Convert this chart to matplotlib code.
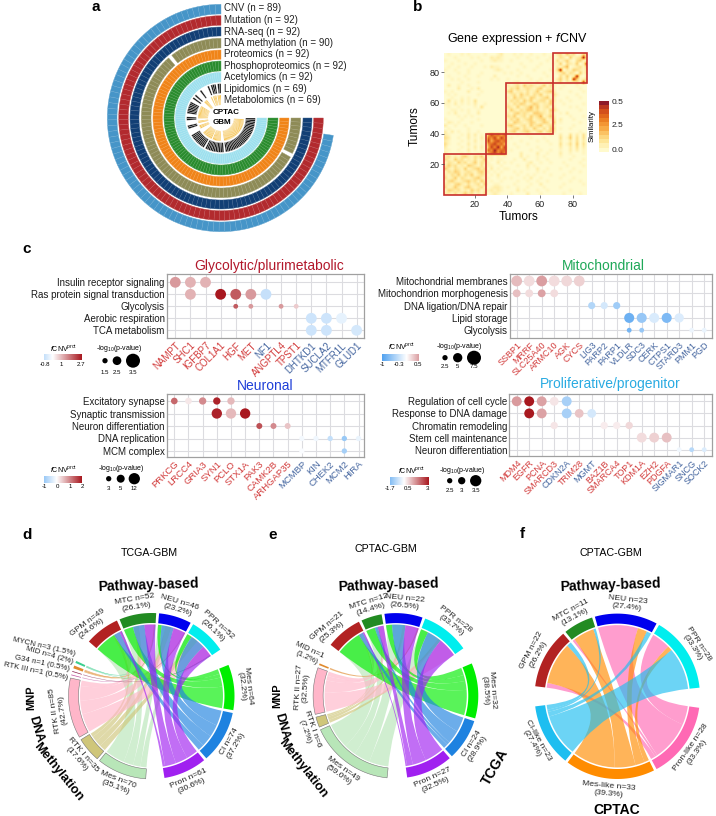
import numpy as np
import matplotlib
matplotlib.use('Agg')
import matplotlib.pyplot as plt
from matplotlib.colors import LinearSegmentedColormap, TwoSlopeNorm, to_rgb
from matplotlib.patches import PathPatch, Rectangle
from matplotlib.path import Path

plt.rcParams['font.family'] = ['Liberation Sans', 'DejaVu Sans']
plt.rcParams['mathtext.fontset'] = 'custom'
plt.rcParams['mathtext.rm'] = 'Liberation Sans'
plt.rcParams['mathtext.it'] = 'Liberation Sans:italic'
plt.rcParams['mathtext.bf'] = 'Liberation Sans:bold'

# ---------- panel a ----------
omics_labels = ['CNV (n = 89)', 'Mutation (n = 92)', 'RNA-seq (n = 92)', 'DNA methylation (n = 90)',
                'Proteomics (n = 92)', 'Phosphoproteomics (n = 92)', 'Acetylomics (n = 92)',
                'Lipidomics (n = 69)', 'Metabolomics (n = 69)']
omics_colors = ['#4695C8', '#B22A2E', '#123F75', '#8E8B57', '#F08418', '#2A8C2E', '#9DE0EE', '#1A1A1A', '#F5BC3A']
n_samples = 92
cnv_present = list(range(89))
full_present = list(range(92))
dna_missing = [13, 82]
lipid_present = [0, 1, 3, 4, 5, 7, 12, 16, 18] + list(range(21, 28)) + [30, 31, 35, 36] + \
    list(range(41, 51)) + list(range(52, 63)) + list(range(64, 92))
metab_present = [0, 1, 2, 4, 5, 6, 8, 13, 14, 15] + list(range(20, 31)) + [33, 34, 37, 38, 39] + \
    list(range(44, 53)) + list(range(54, 61)) + list(range(64, 91))

# ---------- panel b ----------
heat_rows = [  # top row first, one character per 2x2 tumour block
 "0100010100001 000120 001010010001000 2314230142",
 "0001000010100 021210 000100100100010 1320412391",
 "1000100000010 012110 010000010000100 3124103412",
 "0010001001000 000000 000010000010001 1403214029",
 "0100100010001 021100 100001000100000 2135012314",
 "1001000100000 001210 000100001000010 3902143213",
 "0000100100010 000001 010010000001000 1241320413",
 "0100001000100 002000 000100100000100 0314129102",
 "0010100100000 010100 100000010010000 2413094123",
 "0000010000100 000000 001200100200110 1302213190",
 "0200100100000 000000 212314232124131 0010001000",
 "0000200010200 000000 132412321341221 0100000100",
 "1010000200010 000000 341221312412342 0000100010",
 "0101000000100 000000 123142313241213 1000001000",
 "0010010100000 000000 214232143123412 0001000100",
 "0301020103000 000000 132314241233142 0100100000",
 "1102010102001 000000 213243124312241 0010000010",
 "0100100001030 000000 321412352412312 0000101000",
 "0011010100100 000000 142132442312143 1000000100",
 "0102000100200 000000 213423214432131 0102000000",
 "0000101010000 000000 324123142351242 0000100010",
 "1000010000100 000000 132412341234123 0200010000",
 "0210100010000 000000 214321243124314 0100000100",
 "2001001000010 000000 342123142341232 0000010000",
 "0100000100000 000000 123413214213143 0100100000",
 "2020100100100 000000 234123421341342 0000000100",
 "2100010202010 586757 000100100000010 0200302030",
 "3200100201020 768586 010000010001000 0301403030",
 "2100010102010 857867 000010000100100 0200203020",
 "3100100201010 678675 001000100000010 0301304030",
 "2000010102020 586958 000100000100000 0200203020",
 "1100100201010 769677 010000010010010 0100202010",
 "2000010100100 578686 000020000200100 0200100010",
 "2312134213241 110101 000020100101000 0100010000",
 "3214231213124 010110 001002000100100 0000100010",
 "1321423124132 100201 010000120010010 0010000100",
 "2423121432131 110010 000100201000000 0001000010",
 "4213214123423 020101 100000100200100 0100010000",
 "1324312321342 101010 001010000101000 0000100100",
 "2132413241232 010200 000100101000010 0010000000",
 "3124132123421 100101 010001020010000 0100010000",
 "1342123423142 010010 000100100100100 0000100100",
 "2213421312314 001100 001000010020000 0010000010",
 "3124213421231 012210 100100100001000 0100000000",
 "1432312142312 121210 000201000100100 0000100000",
 "2213124231213 012100 010000200010000 0010000100",
]
heat_colors = ['#FFFBD0', '#FFF5BE', '#FFEDA8', '#FEE08E', '#FDCF72', '#F7B04F', '#EF8D33', '#E06A22', '#C9431E', '#8E1B2A']
cbar_colors = ['#FFFACD', '#FFF0B0', '#FEE08B', '#FDCB6E', '#F9AE4A', '#F39433', '#E8771F', '#DC5B1B', '#C53E20', '#8E1B2A']
clusters_x = [(1.5, 27), (27, 39), (39, 68), (68, 88.5)]
clusters_y = [(0, 27), (27, 40), (40, 73), (73, 92.5)]

# ---------- panel c ----------
gly_title = 'Glycolytic/plurimetabolic'
gly_paths = ['Insulin receptor signaling', 'Ras protein signal transduction', 'Glycolysis', 'Aerobic respiration', 'TCA metabolism']
gly_genes = ['NAMPT', 'SHC1', 'IGFBP7', 'COL1A1', 'HGF', 'MET', 'NF1', 'ANGPTL4', 'TPST1', 'DHTKD1', 'SUCLA2', 'MTFR1L', 'GLUD1']
gly_blue = ['NF1', 'DHTKD1', 'SUCLA2', 'MTFR1L', 'GLUD1']
gly_r = [0, 0, 0, 1, 1, 1, 1, 1, 2, 2, 2, 2, 3, 3, 3, 4, 4, 4]
gly_c = [0, 1, 2, 1, 3, 4, 5, 6, 4, 5, 7, 8, 9, 10, 11, 9, 10, 12]
gly_v = [1.2, .9, .9, .9, 2.7, 1.9, 1.2, -.8, 1.9, 1.2, 1.2, .6, -.7, -.7, -.35, -.7, -.7, -.6]
gly_p = [2.9, 2.9, 2.9, 2.9, 2.9, 2.9, 2.9, 2.9, 1.5, 1.5, 1.5, 1.5, 2.9, 2.9, 2.9, 2.9, 2.9, 2.9]

mit_title = 'Mitochondrial'
mit_paths = ['Mitochondrial membranes', 'Mitochondrion morphogenesis', 'DNA ligation/DNA repair', 'Lipid storage', 'Glycolysis']
mit_genes = ['SSBP1', 'MRRF', 'SLC25A40', 'ARMC10', 'AGK', 'CYCS', 'LIG3', 'PARP2', 'PARP1', 'VLDLR', 'SDC3', 'CERK', 'CTPS1', 'STARD3', 'PMM1', 'PGD']
mit_blue = mit_genes[6:]
mit_r = [0] * 6 + [1] * 4 + [2] * 3 + [3] * 5 + [4] * 4
mit_c = [0, 1, 2, 3, 4, 5, 0, 1, 2, 3, 6, 7, 8, 9, 10, 11, 12, 13, 9, 10, 14, 15]
mit_v = [.35, .18, .5, .18, .2, .24, .33, .18, .48, .18, -.45, -.25, -.55, -.85, -.6, -.22, -.75, -.2, -.8, -.6, -.1, -.12]
mit_p = [5.8, 5.8, 5.8, 5.8, 5.8, 5.8, 4.2, 4.2, 4.2, 4.2, 3.8, 3.8, 3.8, 5.4, 5.4, 5.4, 5.4, 5, 2.5, 2.5, 2.5, 2.5]

neu_title = 'Neuronal'
neu_paths = ['Excitatory synapse', 'Synaptic transmission', 'Neuron differentiation', 'DNA replication', 'MCM complex']
neu_genes = ['PRKCG', 'LRCC4', 'GRIA3', 'SYN1', 'PCLO', 'STX1A', 'PAK3', 'CAMK2B', 'ARHGAP35', 'MCMBP', 'KIN', 'CHEK2', 'MCM2', 'HIRA']
neu_blue = neu_genes[9:]
neu_r = [0] * 5 + [1] * 3 + [2] * 3 + [3] * 5 + [4] * 2
neu_c = [0, 1, 2, 3, 4, 3, 4, 5, 6, 7, 8, 9, 10, 11, 12, 13, 9, 12]
neu_v = [1.3, .2, 1.0, 1.9, .6, 1.9, .6, 2, 1.5, 1.0, .5, -.1, -.15, -.6, -1, -.2, -.05, -.9]
neu_p = [4, 4, 4.5, 4.5, 4.5, 10.5, 10.5, 10.5, 3.5, 3.5, 3.5, 3, 3, 3, 3, 3, 3, 3]

pro_title = 'Proliferative/progenitor'
pro_paths = ['Regulation of cell cycle', 'Response to DNA damage', 'Chromatin remodeling', 'Stem cell maintenance', 'Neuron differentiation']
pro_genes = ['MDM4', 'EGFR', 'PCNA', 'SMARCD3', 'CDKN2A', 'TRIM28', 'MGMT', 'BAZ1B', 'SMARCA4', 'TOP1', 'KDM1A', 'EZH2', 'PDGFA', 'SIGMAR1', 'SNCG', 'SOCK2']
pro_blue = ['CDKN2A', 'MGMT', 'SIGMAR1', 'SNCG', 'SOCK2']
pro_r = [0] * 5 + [1] * 5 + [2] * 4 + [3] * 3 + [4] * 3
pro_c = [0, 1, 2, 3, 4, 1, 2, 4, 5, 6, 3, 7, 8, 9, 10, 11, 12, 13, 14, 15]
pro_v = [1.3, 3, 1.2, .35, -1.2, 3, 1.2, -1.2, .75, -.6, .35, .25, .25, .5, .45, .6, .8, -.2, -1, -.5]
pro_p = [3.35, 3.35, 3.35, 3.2, 3.35, 3.35, 3.35, 3.35, 3.2, 3.2, 3, 3, 3, 3, 3.35, 3.35, 3.35, 2.5, 2.5, 2.5]

# ---------- panels d, e, f ----------
top_colors = ['#B22222', '#228B22', '#0000EE', '#00EEEE']
d_top_lab = ['GPM n=49\n(24.6%)', 'MTC n=52\n(26.1%)', 'NEU n=46\n(23.2%)', 'PPR n=52\n(26.1%)']
d_top_n = [49, 52, 46, 52]
d_tcga_lab = ['Mes n=64\n(32.2%)', 'Cl n=74\n(37.2%)', 'Pron n=61\n(30.6%)']
d_tcga_n = [64, 74, 61]
tcga_colors = ['#00EE00', '#1E82E0', '#A020F0']
d_tcga_m = [[35, 10, 4], [15, 19, 18], [6, 20, 20], [8, 25, 19]]
d_meth_lab = ['Mes n=70\n(35.1%)', 'RTK I n=35\n(17.6%)', 'RTK II n=85\n(42.7%)', 'RTK III n=1 (0.5%)', 'G34 n=1 (0.5%)', 'MID n=4 (2%)', 'MYCN n=3 (1.5%)']
d_meth_n = [70, 35, 85, 1, 1, 4, 3]
d_meth_c = ['#B8E6B8', '#CFC67A', '#FFB6C9', '#C04FA0', '#8B2252', '#E08A2E', '#3CCF8E']
d_meth_m = [[32, 6, 9, 0, 0, 1, 1], [16, 9, 24, 0, 0, 2, 1], [12, 10, 22, 1, 0, 1, 0], [10, 10, 30, 0, 1, 0, 1]]

e_top_lab = ['GPM n=21\n(25.3%)', 'MTC n=12\n(14.4%)', 'NEU n=22\n(26.5%)', 'PPR n=28\n(33.7%)']
e_top_n = [21, 12, 22, 28]
e_tcga_lab = ['Mes n=32\n(38.5%)', 'Cl n=24\n(28.9%)', 'Pron n=27\n(32.5%)']
e_tcga_n = [32, 24, 27]
e_tcga_m = [[17, 3, 1], [6, 2, 4], [4, 9, 9], [5, 10, 13]]
e_meth_lab = ['Mes n=49\n(59.0%)', 'RTK I n=6\n(7.2%)', 'RTK II n=27\n(32.5%)', 'MID n=1\n(1.2%)']
e_meth_n = [49, 6, 27, 1]
e_meth_c = ['#B8E6B8', '#CFC67A', '#FFB6C9', '#E08A2E']
e_meth_m = [[17, 1, 3, 0], [8, 1, 3, 0], [11, 2, 8, 1], [13, 2, 13, 0]]

f_top_lab = ['GPM n=22\n(26.2%)', 'MTC n=11\n(13.1%)', 'NEU n=23\n(27.4%)', 'PPR n=28\n(33.3%)']
f_top_n = [22, 11, 23, 28]
f_cptac_lab = ['Pron-like n=28\n(33.3%)', 'Mes-like n=33\n(39.3%)', 'Cl-like n=23\n(27.4%)']
f_cptac_n = [28, 33, 23]
f_cptac_c = ['#FF69B4', '#FF8C00', '#1EBEF0']
f_cptac_m = [[2, 18, 2], [1, 9, 1], [17, 4, 2], [8, 2, 18]]

# ---------- figure ----------
W, H = 716, 816
fig = plt.figure(figsize=(W / 100, H / 100), dpi=100)
ax = fig.add_axes([0, 0, 1, 1], zorder=5)
ax.set_xlim(0, W)
ax.set_ylim(H, 0)
ax.axis('off')
ax.patch.set_alpha(0)


def sub_axes(x0, y0, x1, y1, **kw):
    return fig.add_axes([x0 / W, 1 - y1 / H, (x1 - x0) / W, (y1 - y0) / H], **kw)


def arc_xy(cx, cy, r, a0, a1, num=None):
    num = num or max(2, int(abs(a1 - a0) / 2) + 2)
    t = np.radians(np.linspace(a0, a1, num))
    return np.c_[cx + r * np.cos(t), cy - r * np.sin(t)]


def ring(cx, cy, r0, r1, a0, a1, **kw):
    pts = np.vstack([arc_xy(cx, cy, r1, a0, a1), arc_xy(cx, cy, r0, a1, a0)])
    ax.fill(pts[:, 0], pts[:, 1], **kw)


for lab, txt in [('a', (96, 7)), ('b', (418, 7)), ('c', (27, 249)), ('d', (27, 535)), ('e', (273, 535)), ('f', (522, 534))]:
    ax.text(txt[0], txt[1], lab, fontsize=11, fontweight='bold', ha='center', va='center')

# ---- a ----
ca = (221, 118)
ring_r = [(104, 113.7), (92.7, 102.3), (82, 91), (70, 79.7), (58.7, 68), (47, 57), (36, 45.7), (24.7, 34.3), (13, 23)]
ring_present = [cnv_present, full_present, full_present, [i for i in full_present if i not in dna_missing],
                full_present, full_present, full_present, lipid_present, metab_present]
step = 270 / n_samples
label_y = [8.3, 20, 31.7, 43, 54.3, 65.7, 77, 88.7, 100]
for k, (rr, pres, col) in enumerate(zip(ring_r, ring_present, omics_colors)):
    edge = 'white' if k >= 7 else tuple(0.82 * np.array(to_rgb(col)) + 0.18)
    for i in pres:
        ring(*ca, rr[0], rr[1], 90 + i * step, 90 + (i + 1) * step, facecolor=col,
             edgecolor=edge, linewidth=0.3 if k < 7 else 0.18)
    ax.text(224, label_y[k], omics_labels[k], fontsize=7, va='center', ha='left', color='#222222')
ax.text(226.5, 113, 'CPTAC', fontsize=5.8, fontweight='bold', ha='center', va='center')
ax.text(222, 123, 'GBM', fontsize=5.8, fontweight='bold', ha='center', va='center')

# ---- b ----
axb = sub_axes(444.3, 53, 586.7, 195)
mat = np.array([[int(c) for c in r.replace(' ', '')] for r in heat_rows])
axb.imshow(mat, cmap=LinearSegmentedColormap.from_list('hm', heat_colors), vmin=0, vmax=9, extent=(1.5, 89.5, 0, 92),
           aspect='auto', interpolation='bilinear')
axb.set_xlim(1.5, 88.5)
axb.set_ylim(0, 92.5)
for s in axb.spines.values():
    s.set_visible(False)
axb.set_xticks([20, 40, 60, 80])
axb.set_yticks([20, 40, 60, 80])
axb.tick_params(labelsize=6.5, length=2, width=0.5, pad=1.5, color='#444444', labelcolor='#222222')
for (xa, xb), (ya, yb) in zip(clusters_x, clusters_y):
    axb.add_patch(Rectangle((xa, ya), xb - xa, yb - ya, fill=False, ec='#C8302C', lw=1.2, clip_on=False))
ax.text(517.7, 39, 'Gene expression + $\\mathit{f}$CNV', fontsize=9, ha='center', va='center')
ax.text(519, 217, 'Tumors', fontsize=8.6, ha='center', va='center')
ax.text(415, 126, 'Tumors', fontsize=8.6, ha='center', va='center', rotation=90)
axbc = sub_axes(599.3, 100.7, 608.7, 151.7)
axbc.imshow(np.arange(12)[::-1].reshape(-1, 1), cmap=LinearSegmentedColormap.from_list('hb', cbar_colors), aspect='auto', interpolation='nearest')
axbc.axis('off')
for lab, y in [('0.5', 102), ('2.5', 125.7), ('0.0', 150)]:
    ax.text(612, y, lab, fontsize=6, va='center', ha='left', color='#222222')
ax.text(592.5, 126, 'Similarity', fontsize=5.6, rotation=90, ha='center', va='center')

# ---- c ----
div_cmap = LinearSegmentedColormap.from_list('dv', ['#4A9EEF', '#FFFFFF', '#A8181F'])


def dot_panel(genes, paths, rows, cols, vals, pvals, blue, box, x0, dx, y0, dy, vlim, pscale, title, title_xy, tcol, tick_fs=7):
    left, top, right, bot = box
    a = sub_axes(left, top, right, bot)
    a.set_xlim((left - x0) / dx, (right - x0) / dx)
    a.set_ylim((bot - y0) / dy, (top - y0) / dy)
    a.set_xticks(range(len(genes)))
    a.set_xticklabels(genes, rotation=45, ha='right', rotation_mode='anchor', fontsize=tick_fs)
    a.set_yticks(range(len(paths)))
    a.set_yticklabels(paths, fontsize=7, color='#1a1a1a')
    for lbl, g in zip(a.get_xticklabels(), genes):
        lbl.set_color('#44659F' if g in blue else '#D23B3B')
    a.tick_params(length=0, pad=1.5)
    a.tick_params(axis='x', pad=2)
    a.grid(True, color='#DCDCE0', lw=0.8)
    a.set_axisbelow(True)
    for s in a.spines.values():
        s.set_color('#A0A0A0')
        s.set_linewidth(0.9)
    norm = TwoSlopeNorm(vcenter=0, vmin=vlim[0], vmax=vlim[1])
    diam = np.interp(pvals, pscale[0], pscale[1])
    a.scatter(cols, rows, s=(diam * 0.72) ** 2, c=vals, cmap=div_cmap, norm=norm, linewidths=0, zorder=3, clip_on=False)
    ax.text(title_xy[0], title_xy[1], title, fontsize=10, color=tcol, ha='center', va='center')
    return norm


def legend(norm, bar, bar_labels, bar_range, title_xy, size_title_x, size_title_y, dot_x, dot_y, dot_d, dot_lab, lab_y, size_lab_y):
    b = sub_axes(*bar)
    g = np.linspace(bar_range[0], bar_range[1], 128).reshape(1, -1)
    b.imshow(g, cmap=div_cmap, norm=norm, aspect='auto')
    b.axis('off')
    for (x, t) in bar_labels:
        ax.text(x, lab_y, t, fontsize=4.4, ha='center', va='center')
    ax.text(title_xy[0], title_xy[1], '$\\mathit{f}$CNV$^{\\mathrm{prot}}$', fontsize=5, ha='center', va='center')
    ax.text(size_title_x, size_title_y, '-log$_{10}$(p-value)', fontsize=5, ha='center', va='center')
    ax.scatter(dot_x, [dot_y] * len(dot_x), s=(np.array(dot_d) * 0.72) ** 2, c='black', linewidths=0)
    for x, t in zip(dot_x, dot_lab):
        ax.text(x, size_lab_y, t, fontsize=4.4, ha='center', va='center')


gly_scale = ([1.5, 2.5, 3.5], [4.8, 8.7, 14])
n1 = dot_panel(gly_genes, gly_paths, gly_r, gly_c, gly_v, gly_p, gly_blue, (166.7, 274.3, 364, 337.7), 175.3, 15.11, 282.3, 12, (-2.5, 2.7), gly_scale, gly_title, (269, 266), '#B2182B')
legend(n1, (44, 354, 82, 360), [(44.5, '-0.8'), (61, '1'), (81, '2.7')], (-0.8, 2.7), (64, 349), 119, 349, [105, 117, 133], 360.7, [5.3, 8.7, 14], ['1.5', '2.5', '3.5'], 364, 372)

mit_scale = ([2.5, 5, 7.5], [4.8, 9.3, 14])
n2 = dot_panel(mit_genes, mit_paths, mit_r, mit_c, mit_v, mit_p, mit_blue, (509.7, 274, 711.7, 337.7), 516.7, 12.5, 281, 12.3, (-1.05, 1.2), mit_scale, mit_title, (603, 266), '#1FA858', tick_fs=6.5)
legend(n2, (382, 354, 419, 361), [(382, '-1'), (399, '-0.3'), (418, '0.5')], (-1, 0.5), (401.7, 347), 459, 347, [445, 457.7, 474], 357.7, [5.3, 9.3, 14], ['2.5', '5', '7.5'], 365, 367)

neu_scale = ([3, 5, 12], [5.3, 8, 11])
n3 = dot_panel(neu_genes, neu_paths, neu_r, neu_c, neu_v, neu_p, neu_blue, (166.7, 394.3, 364, 456.7), 174.3, 14.17, 401, 12.5, (-1.8, 2), neu_scale, neu_title, (265, 385.7), '#1E3FD8', tick_fs=6.8)
legend(n3, (44, 476, 82, 483), [(44.5, '-1'), (57, '0'), (70, '1'), (82, '2')], (-1, 2), (64, 470), 121, 469, [108.7, 120.7, 134.3], 478.7, [5.3, 8, 11.3], ['3', '5', '12'], 487, 489)

pro_scale = ([2.5, 3, 3.5], [4.8, 7.3, 11])
n4 = dot_panel(pro_genes, pro_paths, pro_r, pro_c, pro_v, pro_p, pro_blue, (509.3, 394.3, 711.7, 455.7), 516.7, 12.5, 401.3, 12.1, (-2.5, 3), pro_scale, pro_title, (610.7, 384), '#29ABE2', tick_fs=6.5)
legend(n4, (390, 477, 428, 484.7), [(390, '-1.7'), (408, '0.5'), (427, '3')], (-1.7, 3), (411.7, 470.7), 462, 470, [449.7, 461.7, 475.7], 480.7, [5.3, 7.3, 11.3], ['2.5', '3', '3.5'], 488.7, 490.7)


# ---- chord diagrams ----
def chord_link(cx, cy, r, a0, a1, b0, b1, color, alpha):
    A = arc_xy(cx, cy, r, a0, a1, 8)
    B = arc_xy(cx, cy, r, b0, b1, 8)
    c = (cx, cy)
    verts = list(A) + [c, B[0]] + list(B[1:]) + [c, A[0]]
    codes = [Path.MOVETO] + [Path.LINETO] * (len(A) - 1) + [Path.CURVE3, Path.CURVE3] + \
            [Path.LINETO] * (len(B) - 1) + [Path.CURVE3, Path.CURVE3]
    ax.add_patch(PathPatch(Path(verts, codes), facecolor=color, alpha=alpha, edgecolor='none', linewidth=0))


def label_rot(mid):
    mid = mid % 360
    return mid - 90 if mid < 195 else mid + 90


def chord_panel(cx, cy, R, start, top, others, big_gaps, small=2.0, alpha=0.65, no_tangent=None, shift=None):
    all_groups = [top] + [o[:3] for o in others]
    total = sum(sum(g[0]) for g in all_groups)
    nsmall = sum(len(g[0]) - 1 for g in all_groups)
    scale = (360 - sum(big_gaps) - nsmall * small) / total
    spans = []
    ang = start
    for gi, g in enumerate(all_groups):
        sp = []
        for n in g[0]:
            sp.append((ang, ang - n * scale))
            ang -= n * scale + small
        ang += small
        ang -= big_gaps[gi] if gi < len(big_gaps) else 0
        spans.append(sp)
    rl = R - 11.5
    for t_i in range(len(others) - 1, -1, -1):
        ns, cols, mat = others[t_i][0], others[t_i][2], others[t_i][3]
        tspan = spans[t_i + 1]
        cur_top = [sp[0] for sp in spans[0]]
        cur_t = [sp[0] for sp in tspan]
        slots_top = {}
        for i in range(len(mat)):
            for j in range(len(ns)):
                w = mat[i][j] * scale
                slots_top[(i, j)] = (cur_top[i], cur_top[i] - w)
                cur_top[i] -= w
        for j in range(len(ns)):
            for i in range(len(mat) - 1, -1, -1):
                w = mat[i][j] * scale
                if w > 0:
                    a0, a1 = slots_top[(i, j)]
                    chord_link(cx, cy, rl, a0, a1, cur_t[j], cur_t[j] - w, cols[j], alpha)
                cur_t[j] -= w
    for g, sp in zip(all_groups, spans):
        ns, labs, cols = g[0], g[1], g[2]
        for n, lab, col, (a0, a1) in zip(ns, labs, cols, sp):
            ring(cx, cy, R - 10, R, a0, a1, facecolor=col, edgecolor='#777777' if col in ('#B8E6B8', '#FFB6C9', '#CFC67A') else 'none', linewidth=0.4)
            mid = (a0 + a1) / 2
            if '\n' in lab and not (no_tangent and lab in no_tangent):
                dm = (shift or {}).get(lab, 0)
                x, y = arc_xy(cx, cy, R + 11, mid + dm, mid + dm, 2)[0]
                ax.text(x, y, lab, fontsize=6.1, rotation=label_rot(mid), ha='center', va='center',
                        rotation_mode='anchor', multialignment='center', linespacing=1.15, color='#222222')


def bold_arc(cx, cy, r, mid, text, fs=10):
    x, y = arc_xy(cx, cy, r, mid, mid, 2)[0]
    ax.text(x, y, text, fontsize=fs, fontweight='bold', rotation=label_rot(mid), ha='center', va='center', rotation_mode='anchor')


# d
cd = (151.5, 696)
chord_panel(*cd, 83, 139, (d_top_n, d_top_lab, top_colors),
            [(d_tcga_n, d_tcga_lab, tcga_colors, d_tcga_m), (d_meth_n, d_meth_lab, d_meth_c, d_meth_m)], [12, 13, 16],
            shift={d_top_lab[0]: 4.5})
for t, xy, rot in [('MYCN n=3 (1.5%)', (75, 654), -13), ('MID n=4 (2%)', (73, 662.5), -16),
                   ('G34 n=1 (0.5%)', (70, 669.5), -12), ('RTK III n=1 (0.5%)', (68, 678), -12)]:
    ax.text(xy[0], xy[1], t, fontsize=5.7, rotation=rot, ha='right', va='center', rotation_mode='anchor', color='#222222')
ax.text(149, 552.7, 'TCGA-GBM', fontsize=7.7, ha='center', va='center')
ax.text(148, 585, 'Pathway-based', fontsize=10, fontweight='bold', ha='center', va='center', rotation=2)
bold_arc(*cd, 120, 181, 'MNP', 8)
bold_arc(*cd, 120, 196, 'DNA', 9)
bold_arc(*cd, 120, 219, 'Methylation', 9.3)

# e
ce = (395.7, 695.7)
chord_panel(*ce, 82.6, 142, (e_top_n, e_top_lab, top_colors),
            [(e_tcga_n, e_tcga_lab, tcga_colors, e_tcga_m), (e_meth_n, e_meth_lab, e_meth_c, e_meth_m)], [12, 14, 15],
            no_tangent=['MID n=1\n(1.2%)'],
            shift={e_top_lab[0]: 5.5, e_top_lab[1]: -1, e_meth_lab[1]: 3, e_meth_lab[2]: -1.5})
ax.text(308, 654, 'MID n=1\n(1.2%)', fontsize=5.9, rotation=-25, ha='center', va='center', rotation_mode='anchor', multialignment='center', color='#222222')
ax.text(386, 549.3, 'CPTAC-GBM', fontsize=7.7, ha='center', va='center')
ax.text(388, 585, 'Pathway-based', fontsize=10, fontweight='bold', ha='center', va='center', rotation=2)
bold_arc(*ce, 118, 180, 'MNP', 8)
bold_arc(*ce, 118, 195, 'DNA', 9)
bold_arc(*ce, 118, 218, 'Methylation', 9.3)
ax.text(495, 767, 'TCGA', fontsize=10, fontweight='bold', rotation=60, ha='center', va='center', rotation_mode='anchor')

# f
cf = (617.3, 696.3)
chord_panel(*cf, 82.7, 173, (f_top_n, f_top_lab, top_colors),
            [(f_cptac_n, f_cptac_lab, f_cptac_c, f_cptac_m)], [14, 14])
ax.text(611, 553, 'CPTAC-GBM', fontsize=7.7, ha='center', va='center')
ax.text(610, 585, 'Pathway-based', fontsize=10, fontweight='bold', ha='center', va='center', rotation=2)
ax.text(617, 810, 'CPTAC', fontsize=10, fontweight='bold', ha='center', va='center')

fig.savefig('out.png', dpi=100, facecolor='white')
